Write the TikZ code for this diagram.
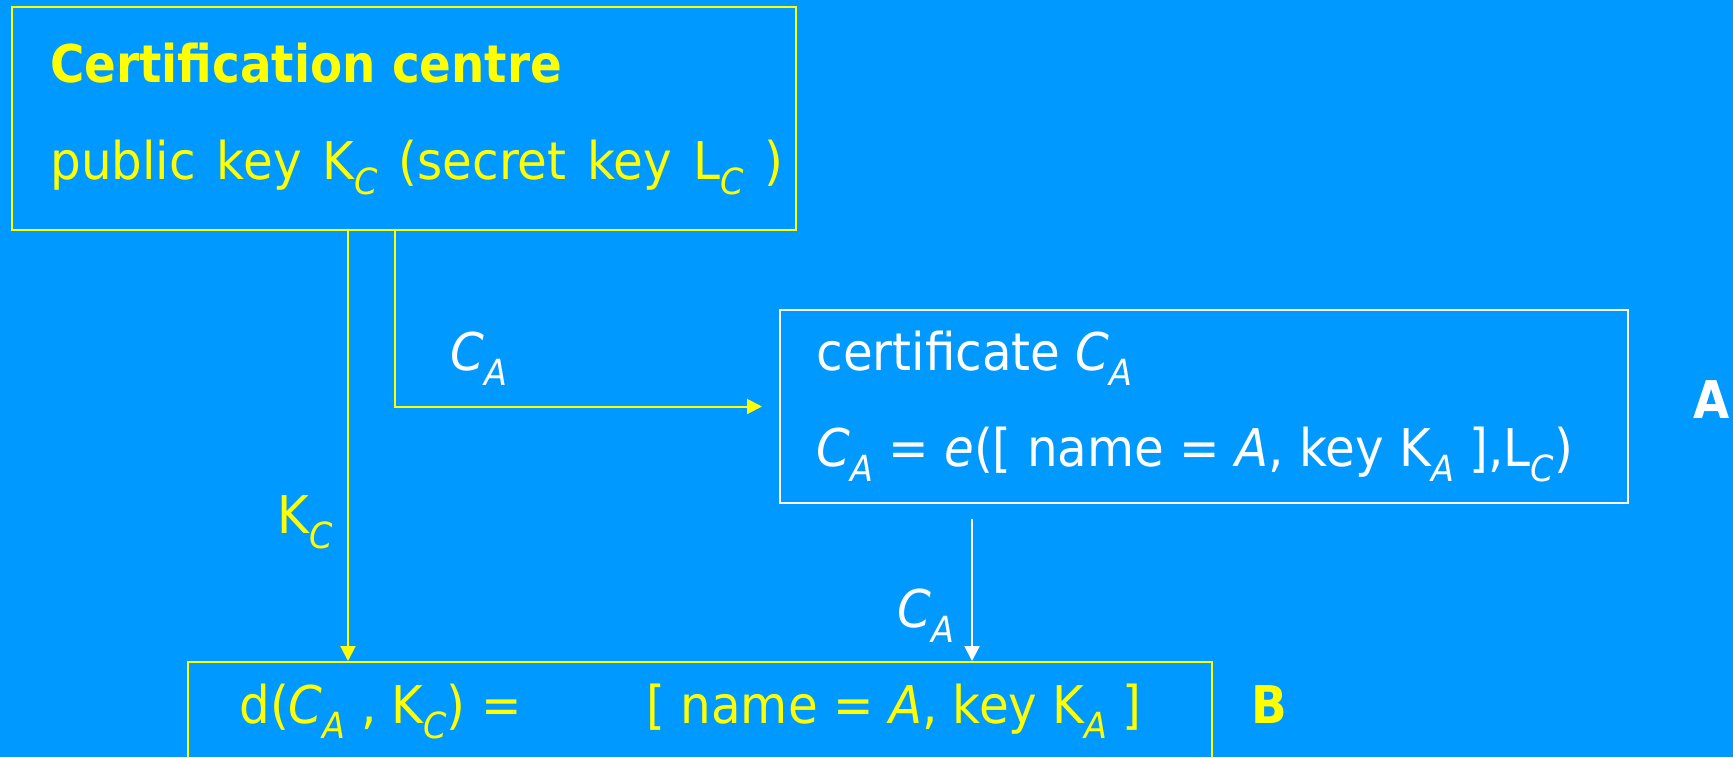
\documentclass[tikz,border=0pt]{standalone}
\usepackage{fontspec}
\setmainfont{DejaVu Sans}[FakeStretch=0.93]
\newfontfamily\heavyfam{DejaVu Sans}[FakeStretch=0.9]
\usetikzlibrary{arrows.meta}
\definecolor{bg}{RGB}{0,153,255}
\definecolor{yel}{RGB}{255,255,0}
% lowered italic index, as in K_C or C_A
\newcommand\lo[1]{\raisebox{-7.5pt}{\fontsize{18pt}{18pt}\selectfont\itshape #1}}
\newcommand\widegaps{\spaceskip=10.5pt\relax}
\begin{document}
\begin{tikzpicture}[x=0.5pt,y=-0.5pt,
  frame/.style={draw, line width=1pt, inner sep=0pt},
  txt/.style={anchor=base west, inner sep=0pt, font=\fontsize{26pt}{30pt}\selectfont},
  bold/.style={txt, font=\fontsize{26pt}{30pt}\selectfont\heavyfam\bfseries},
  flow/.style={line width=1pt, -{Triangle[length=7.5pt,width=7.5pt]}}]
\useasboundingbox (0,0) rectangle (1733,757);
\clip (0,0) rectangle (1733,757);
\fill[bg] (0,0) rectangle (1733,757);

% boxes
\node[frame, yel, minimum width=392pt, minimum height=111.5pt] (top) at (404,118.5) {};
\node[frame, white, minimum width=424pt, minimum height=96.5pt] (cert) at (1204,406.5) {};
\node[frame, yel, minimum width=512pt, minimum height=79pt] (bot) at (700,741) {};

% box texts
\node[bold, yel] (t1) at (50,82) {Certification centre};
\node[txt, yel] (t2) at (50,179) {\widegaps public key K\lo{C} (secret key L\lo{C} )};
\node[txt, white] (c1) at (816,370) {certificate \textit{C}\lo{A}};
\node[txt, white] (c2) at (816,466) {\textit{C}\lo{A} = \textit{e}([ name = \textit{A}, key K\lo{A} ],L\lo{C})};
\node[txt, yel] (b1) at (239,723) {d(\textit{C}\lo{A} , K\lo{C}) =};
\node[txt, yel] (b2) at (646,723) {[ name = \textit{A}, key K\lo{A} ]};
\node[bold, yel] (lb) at (1251,723) {B};
\node[bold, white, anchor=base east] (la) at (1730,418) {A};

% connectors
\coordinate (kx) at (348,0);
\coordinate (cx) at (395,0);
\coordinate (wx) at (972,0);
\draw[flow, yel] (kx |- top.south) -- (kx |- bot.north);
\draw[flow, yel, shorten >=8.5pt] (cx |- top.south) |- (cert.west);
\draw[flow, white, shorten <=7.5pt] (wx |- cert.south) -- (wx |- bot.north);

% connector labels
\node[txt, white] (l1) at (450,370) {\textit{C}\lo{A}};
\node[txt, yel] (l2) at (277,533) {K\lo{C}};
\node[txt, white] (l3) at (897,627) {\textit{C}\lo{A}};
\end{tikzpicture}
\end{document}
